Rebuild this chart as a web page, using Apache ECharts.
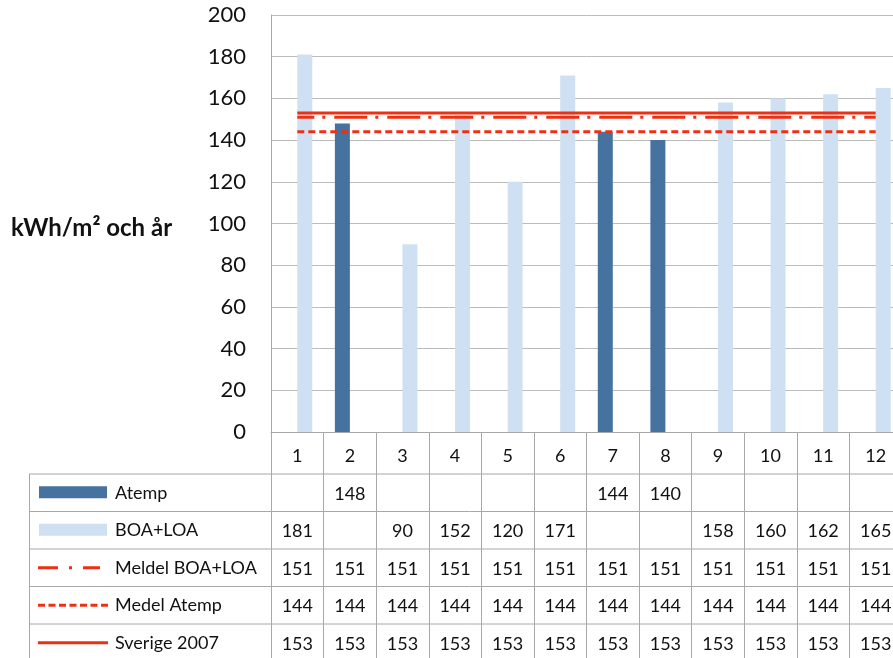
<!DOCTYPE html>
<html>
<head>
<meta charset="utf-8">
<script src="https://cdn.jsdelivr.net/npm/echarts@6/dist/echarts.min.js"></script>
<style>
html,body{margin:0;padding:0;background:#fff;overflow:hidden;width:893px;height:658px;}
#chart{width:910px;height:658px;}
</style>
</head>
<body>
<div id="chart"></div>
<script>
const categories = ['1','2','3','4','5','6','7','8','9','10','11','12'];
const atemp = [null,148,null,null,null,null,144,140,null,null,null,null];
const boaLoa = [181,null,90,152,120,171,null,null,158,160,162,165];
const meldelBoaLoa = [151,151,151,151,151,151,151,151,151,151,151,151];
const medelAtemp = [144,144,144,144,144,144,144,144,144,144,144,144];
const sverige2007 = [153,153,153,153,153,153,153,153,153,153,153,153];
const seriesNames = ['Atemp','BOA+LOA','Meldel BOA+LOA','Medel Atemp','Sverige 2007'];
const yAxisTitle = 'kWh/m² och år';
const yMin = 0, yMax = 200, yInterval = 20;

const FONT = 'Lato';
const DARK = '#46729f';
const LIGHT = '#cfe0f2';
const RED = '#eb3014';
const GRID = '#bcbcbc';
const TLINE = '#a8a8a8';

const chart = echarts.init(document.getElementById('chart'), null, {renderer:'canvas'});

const gridTop = 15, gridH = 417, gridLeft = 271, gridW = 631;
const rowTops = [474, 511.5, 549, 586.5, 624, 661.5];

const option = {
  animation:false,
  backgroundColor:'#fff',
  grid:{left:gridLeft, top:gridTop, width:gridW, height:gridH, containLabel:false},
  xAxis:{
    type:'category', data:categories,
    axisLine:{show:true, lineStyle:{color:TLINE, width:1}},
    axisTick:{show:true, interval:0, length:230, lineStyle:{color:TLINE, width:1}},
    axisLabel:{margin:15, fontFamily:FONT, fontSize:18, color:'#111'},
    splitLine:{show:false}
  },
  yAxis:{
    type:'value', min:yMin, max:yMax, interval:yInterval,
    axisLine:{show:true, lineStyle:{color:TLINE, width:1}},
    axisTick:{show:false},
    axisLabel:{margin:25, fontFamily:FONT, fontSize:22, color:'#111', verticalAlign:'middle', padding:[6,0,0,0]},
    splitLine:{show:true, lineStyle:{color:GRID, width:1}}
  },
  series:[
    {name:seriesNames[0], type:'bar', data:atemp, barWidth:15, barGap:'0%', itemStyle:{color:DARK}},
    {name:seriesNames[1], type:'bar', data:boaLoa, barWidth:15, barGap:'0%', itemStyle:{color:LIGHT}},
    {name:seriesNames[2], type:'line', data:meldelBoaLoa, symbol:'none', z:5,
      lineStyle:{color:RED, width:3, type:[33,8,3,9], dashOffset:16}},
    {name:seriesNames[3], type:'line', data:medelAtemp, symbol:'none', z:5,
      lineStyle:{color:RED, width:3, type:[7,4]}},
    {name:seriesNames[4], type:'line', data:sverige2007, symbol:'none', z:5,
      lineStyle:{color:RED, width:3, type:'solid'}}
  ]
};
chart.setOption(option);

const tableData = [atemp, boaLoa, meldelBoaLoa, medelAtemp, sverige2007];
const els = [];
// y-axis title
els.push({type:'text', x:11, y:228,
  style:{text:yAxisTitle, font:'bold 24px '+FONT, fill:'#111', textVerticalAlign:'middle', verticalAlign:'middle'}});
// horizontal table lines
rowTops.forEach(y=>{
  els.push({type:'line', shape:{x1:29, y1:y, x2:910, y2:y}, style:{stroke:TLINE, lineWidth:1}});
});
els.push({type:'line', shape:{x1:29.5, y1:rowTops[0], x2:29.5, y2:658}, style:{stroke:TLINE, lineWidth:1}});
// legend keys and values
const keyX1 = 39, keyX2 = 107, textX = 115;
rowTops.slice(0,5).forEach((top,i)=>{
  const cy = top + 18.75;
  if(i===0) els.push({type:'rect', shape:{x:keyX1, y:cy-6.5, width:keyX2-keyX1, height:12}, style:{fill:DARK}});
  if(i===1) els.push({type:'rect', shape:{x:keyX1, y:cy-6.5, width:keyX2-keyX1, height:12}, style:{fill:LIGHT}});
  if(i===2) els.push({type:'line', shape:{x1:38, y1:cy, x2:100, y2:cy}, style:{stroke:RED, lineWidth:3, lineDash:[20,11,3,11]}});
  if(i===3) els.push({type:'line', shape:{x1:38, y1:cy, x2:108, y2:cy}, style:{stroke:RED, lineWidth:3, lineDash:[7,3.5]}});
  if(i===4) els.push({type:'line', shape:{x1:38, y1:cy, x2:108, y2:cy}, style:{stroke:RED, lineWidth:3}});
  els.push({type:'text', x:textX, y:cy, style:{text:seriesNames[i], font:'18px '+FONT, fill:'#111', textVerticalAlign:'middle', verticalAlign:'middle'}});
  tableData[i].forEach((v,j)=>{
    if(v===null||v===undefined) return;
    const px = chart.convertToPixel({xAxisIndex:0}, categories[j]);
    els.push({type:'text', x:px, y:cy+1, style:{text:String(v), font:'18px '+FONT, fill:'#111', align:'center', verticalAlign:'middle', textAlign:'center', textVerticalAlign:'middle'}});
  });
});
chart.setOption({graphic:{elements:els}});
</script>
</body>
</html>
